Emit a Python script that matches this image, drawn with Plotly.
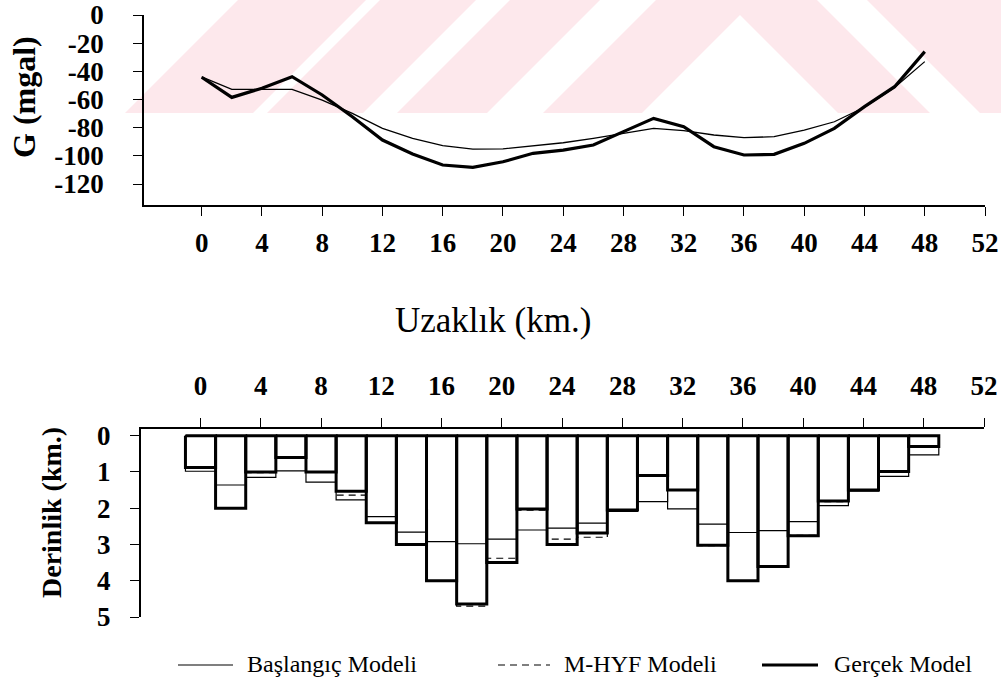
import plotly.graph_objects as go

# ---- data ----------------------------------------------------------------
# distance along the profile (km) – prism centres / gravity stations
distance_km = [0, 2, 4, 6, 8, 10, 12, 14, 16, 18, 20, 22, 24, 26, 28, 30,
               32, 34, 36, 38, 40, 42, 44, 46, 48]

# gravity anomaly (mgal)
g_initial = [-44.0, -52.8, -52.8, -52.8, -60.4, -69.8, -80.5, -87.6, -92.8,
             -95.2, -95.0, -92.8, -90.7, -87.6, -84.0, -80.5, -82.1, -85.2,
             -87.1, -86.4, -81.7, -75.8, -65.5, -51.4, -33.1]
g_true = [-44.2, -58.5, -52.0, -43.8, -56.8, -72.2, -88.8, -98.7, -106.5,
          -108.2, -104.2, -98.2, -95.9, -92.3, -82.8, -73.4, -79.3, -93.5,
          -99.4, -98.9, -91.1, -80.5, -65.1, -50.9, -26.0]

# basement depth of each 2 km wide prism (km)
depth_initial = [0.98, 1.36, 1.15, 0.97, 1.28, 1.77, 2.23, 2.66, 2.92, 2.98,
                 2.85, 2.60, 2.55, 2.41, 2.09, 1.82, 2.02, 2.44, 2.67, 2.62,
                 2.37, 1.93, 1.53, 1.12, 0.53]
depth_mhyf = [0.90, 2.00, 1.02, 0.60, 1.00, 1.64, 2.40, 3.00, 4.00, 4.70,
              3.38, 2.05, 2.85, 2.80, 2.05, 1.10, 1.50, 3.03, 4.00, 3.60,
              2.75, 1.82, 1.50, 1.00, 0.30]
depth_true = [0.88, 2.00, 1.00, 0.60, 1.00, 1.53, 2.40, 3.00, 4.00, 4.64,
              3.50, 2.02, 3.00, 2.68, 2.05, 1.10, 1.50, 3.02, 4.00, 3.61,
              2.76, 1.80, 1.50, 0.99, 0.30]

x_ticks = list(range(0, 53, 4))
g_ticks = [0, -20, -40, -60, -80, -100, -120]
g_tick_text = ["0", "-20", "-40", "-60", "-80", "-100", "-120"]
depth_ticks = [0, 1, 2, 3, 4, 5]

legend_names = ["Başlangıç Modeli", "M-HYF Modeli", "Gerçek Model"]

# ---- layout helpers ------------------------------------------------------
W, H = 1001, 689
SERIF = "Liberation Serif"


def px(x):
    return x / W


def py(y):
    return 1 - y / H


def prism_outline(centres, depths, half_width=1.0):
    xs, ys = [], []
    for c, d in zip(centres, depths):
        xs += [c - half_width, c - half_width, c + half_width, c + half_width,
               c - half_width, None]
        ys += [0, d, d, 0, 0, None]
    return xs, ys


def paper_path(points):
    parts = [f"{'M' if i == 0 else 'L'}{px(x):.5f},{py(y):.5f}"
             for i, (x, y) in enumerate(points)]
    return " ".join(parts) + " Z"


fig = go.Figure()

# light pink diagonal stripe decoration across the top band of the page
stripe_polys = [
    [(125, 113), (253, 113), (366, 0), (238, 0)],
    [(267, 113), (363, 113), (476, 0), (380, 0)],
    [(397, 113), (487, 113), (600, 0), (510, 0)],
    [(543, 113), (642, 113), (740, 15), (838, 113), (930, 113), (817, 0),
     (656, 0)],
    [(867, 0), (1001, 0), (1001, 113), (980, 113)],
]
for poly in stripe_polys:
    fig.add_shape(type="path", xref="paper", yref="paper",
                  path=paper_path(poly), fillcolor="#fde8ec",
                  line=dict(width=0), layer="below")

# gravity curves
fig.add_trace(go.Scatter(x=distance_km, y=g_initial, mode="lines",
                         line=dict(color="black", width=1.3),
                         xaxis="x", yaxis="y", showlegend=False))
fig.add_trace(go.Scatter(x=distance_km, y=g_true, mode="lines",
                         line=dict(color="black", width=3.2),
                         xaxis="x", yaxis="y", showlegend=False))

# depth prisms
styles = [dict(color="black", width=1.2),
          dict(color="black", width=1.2, dash="7px,5px"),
          dict(color="black", width=3.0)]
for depths, st in zip([depth_initial, depth_mhyf, depth_true], styles):
    xs, ys = prism_outline(distance_km, depths)
    fig.add_trace(go.Scatter(x=xs, y=ys, mode="lines", line=st,
                             xaxis="x2", yaxis="y2", showlegend=False,
                             connectgaps=False))

tick_font = dict(family=SERIF, size=27, color="black", weight="bold")
axis_common = dict(ticks="outside", ticklen=9, tickwidth=1.2,
                   tickcolor="black", showline=True, linecolor="black",
                   linewidth=1.5, showgrid=False, zeroline=False,
                   tickfont=tick_font, automargin=False)

fig.update_layout(
    width=W, height=H,
    margin=dict(l=0, r=0, t=0, b=0, pad=0, autoexpand=False),
    paper_bgcolor="white", plot_bgcolor="rgba(0,0,0,0)",
    xaxis=dict(domain=[px(144), px(985)], range=[-3.83, 52], anchor="y",
               tickvals=x_ticks, ticklabelstandoff=4, **axis_common),
    yaxis=dict(domain=[py(205), py(15)], range=[-134.9, 0], anchor="x",
               tickvals=g_ticks, ticktext=g_tick_text,
               ticklabelstandoff=24, **axis_common),
    xaxis2=dict(domain=[px(140.7), px(984)], range=[-3.97, 52], anchor="y2",
                side="top", tickvals=x_ticks, ticklabelstandoff=12,
                **axis_common),
    yaxis2=dict(domain=[py(617), py(429)], range=[5, -0.185], anchor="x2",
                tickvals=depth_ticks, ticklabelstandoff=14, **axis_common),
)

# axis titles
title_common = dict(xref="paper", yref="paper", showarrow=False,
                    xanchor="center", yanchor="middle")
fig.add_annotation(text="G (mgal)", x=px(24), y=py(97), textangle=-90,
                   font=dict(family=SERIF, size=32, color="black",
                             weight="bold"), **title_common)
fig.add_annotation(text="Uzaklık (km.)", x=px(493), y=py(320),
                   font=dict(family=SERIF, size=35, color="black"),
                   **title_common)
fig.add_annotation(text="Derinlik (km.)", x=px(51), y=py(513), textangle=-90,
                   font=dict(family=SERIF, size=28, color="black",
                             weight="bold"), **title_common)

# legend row
legend_rows = [(178, 233, 245, styles[0]), (498, 550, 562, styles[1]),
               (762, 818, 832, styles[2])]
for name, (x0, x1, xt, st) in zip(legend_names, legend_rows):
    fig.add_shape(type="line", xref="paper", yref="paper",
                  x0=px(x0), x1=px(x1), y0=py(665), y1=py(665),
                  line=st)
    fig.add_annotation(text=name, x=px(xt), y=py(664), xref="paper",
                       yref="paper", xanchor="left", yanchor="middle",
                       showarrow=False,
                       font=dict(family=SERIF, size=24, color="black"))

fig.write_html("out.html")
